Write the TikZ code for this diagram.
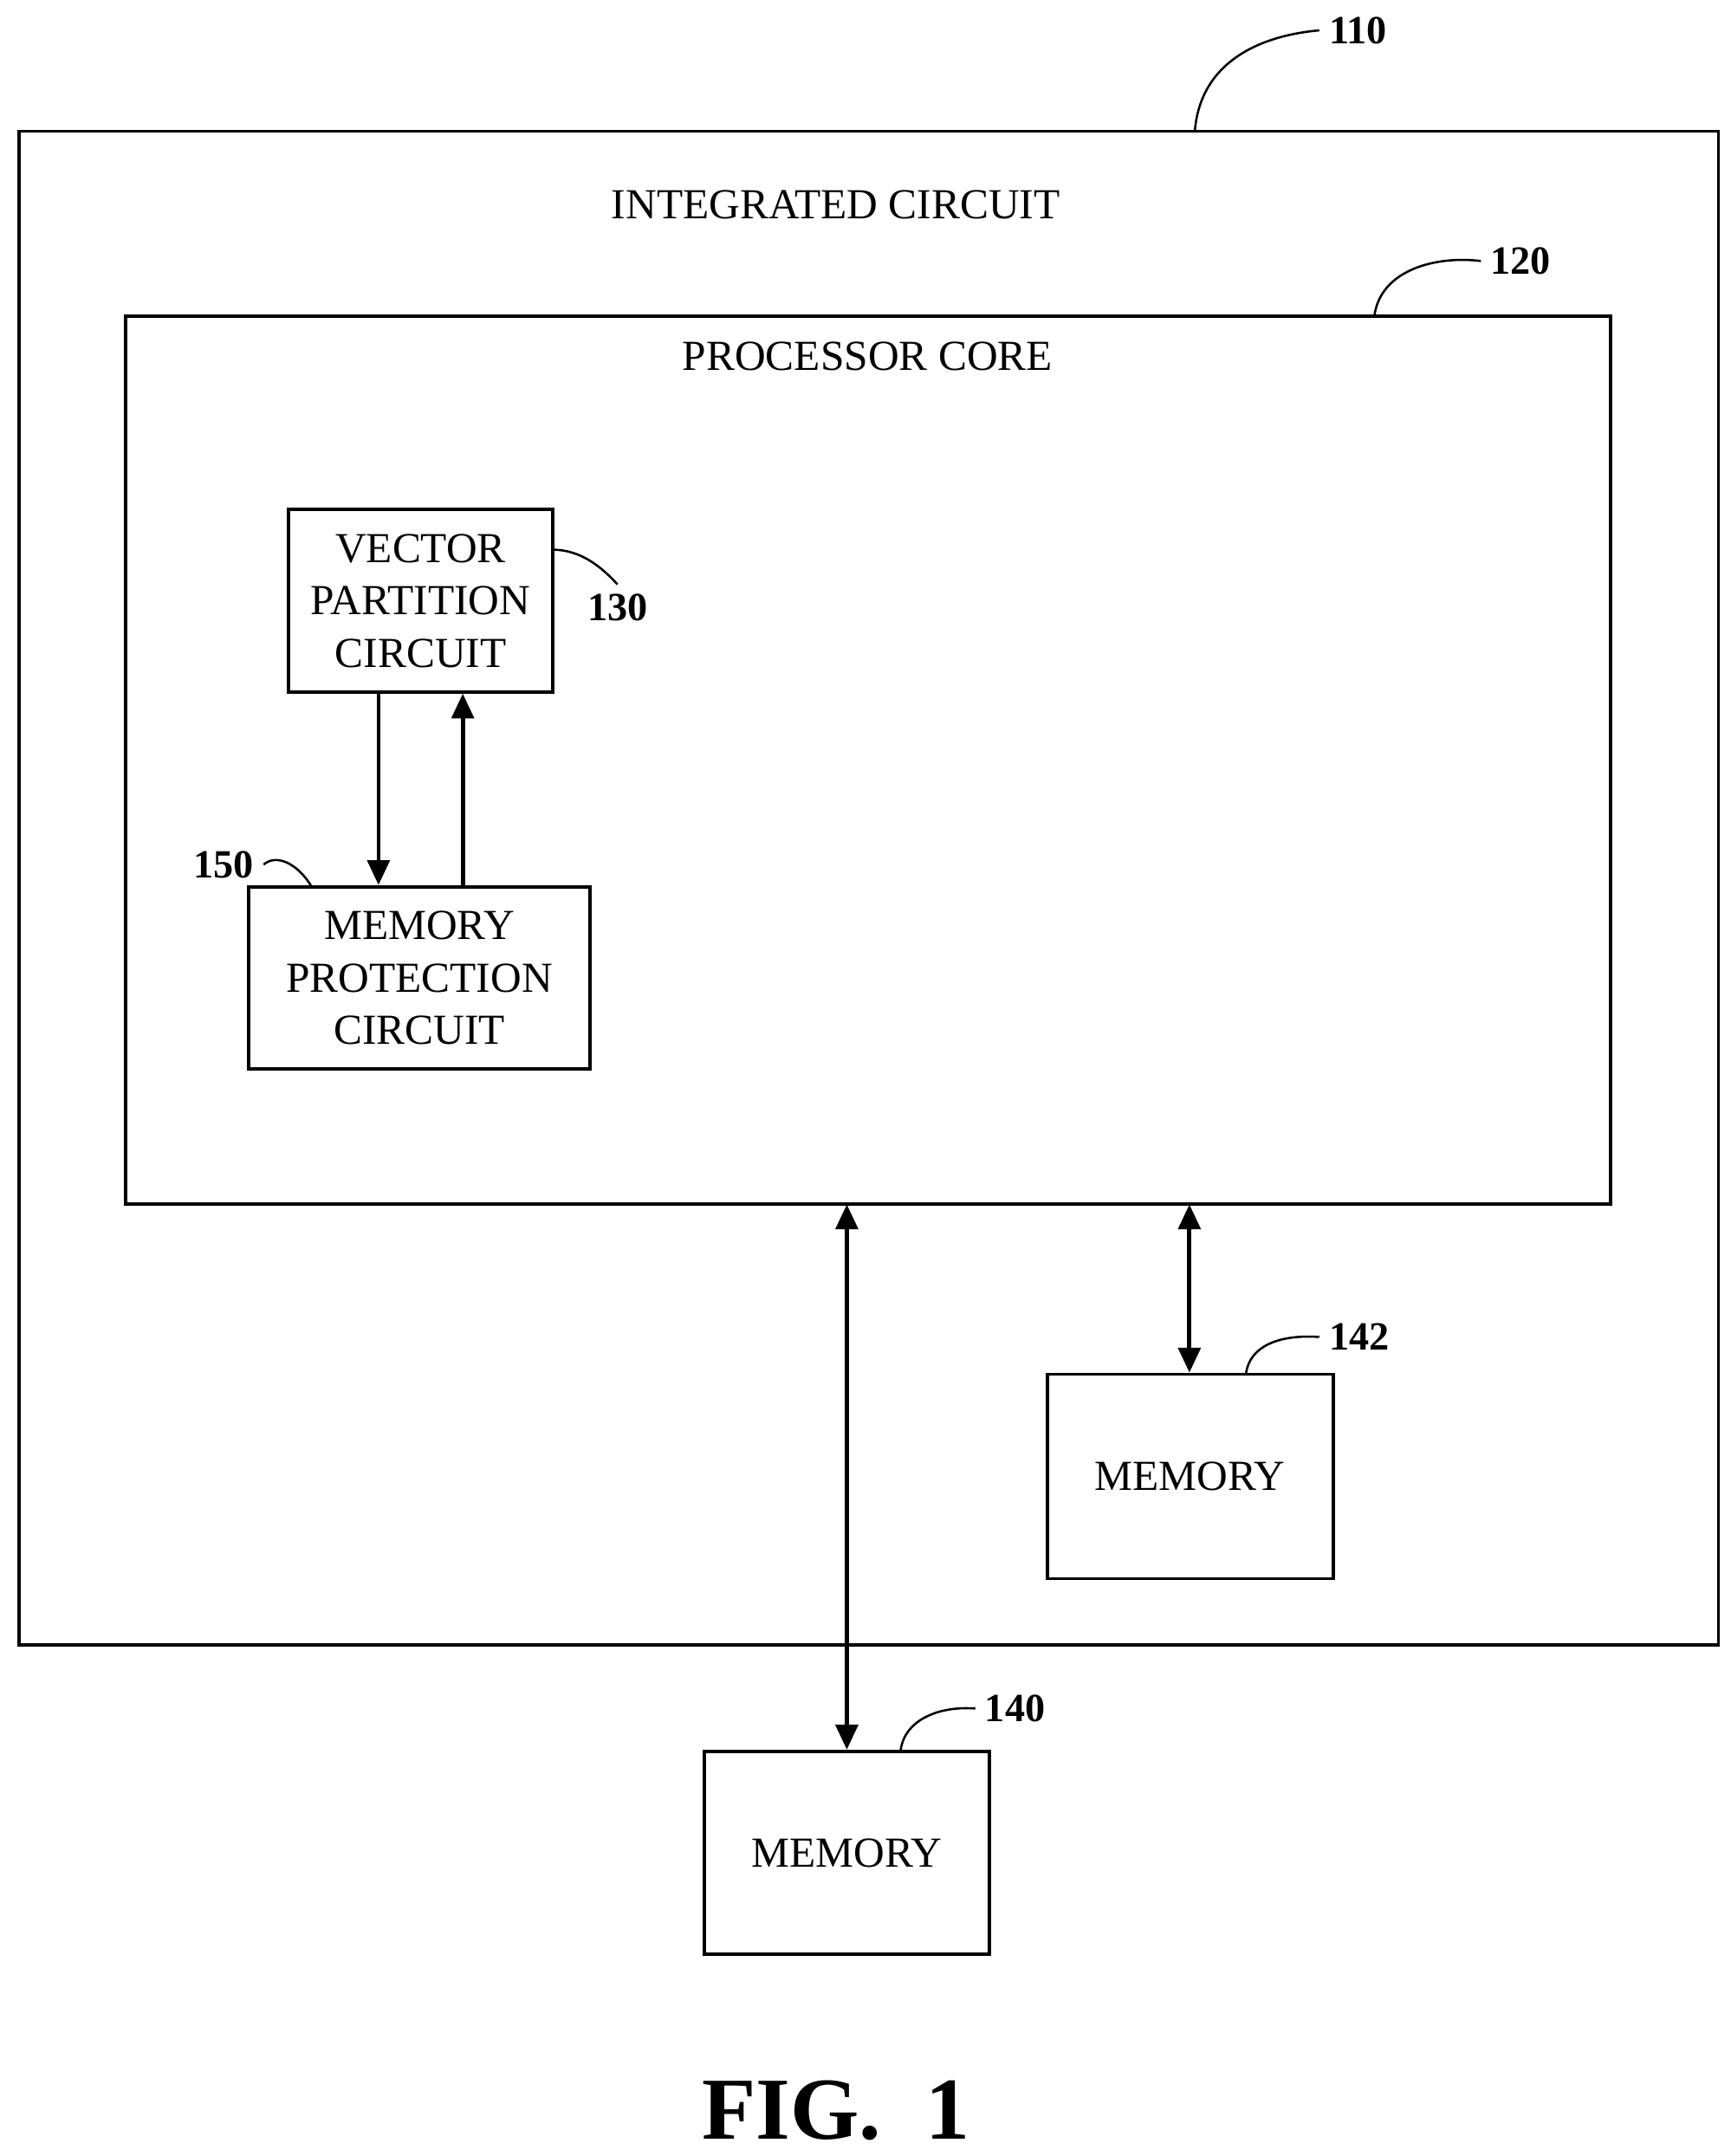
\documentclass[tikz,border=0pt]{standalone}
\usepackage{fontspec}
\setmainfont{Liberation Serif}
\usetikzlibrary{arrows.meta}
\begin{document}
\begin{tikzpicture}[x=0.5pt,y=-0.5pt,
  box/.style={draw,line width=1.2pt},
  txt/.style={font=\fontsize{15.5}{19}\selectfont,align=center},
  lbl/.style={font=\bfseries\fontsize{14.5}{17}\selectfont},
  lead/.style={line width=0.8pt},
  arr/.style={line width=1.5pt,-{Triangle[length=9pt,width=8pt]}},
  darr/.style={line width=1.5pt,{Triangle[length=9pt,width=8pt]}-{Triangle[length=9pt,width=8pt]}}]
\useasboundingbox (0,0) rectangle (1253,1561);
\draw[box] (14,95) rectangle (1244,1191);
\node[txt] (ict) at (605,148) {INTEGRATED CIRCUIT};
\draw[box] (91,229) rectangle (1166,872);
\node[txt] (pct) at (628,258) {PROCESSOR CORE};
\node[box,minimum width=95.5pt,minimum height=66pt,inner sep=0] (vp) at (304.5,435) {};
\node[txt] at (vp) {VECTOR\\PARTITION\\CIRCUIT};
\node[box,minimum width=123.5pt,minimum height=66pt,inner sep=0] (mp) at (303.5,708) {};
\node[txt] at (mp) {MEMORY\\PROTECTION\\CIRCUIT};
\node[box,minimum width=103.5pt,minimum height=74pt,inner sep=0] (m2) at (861.5,1069) {};
\node[txt] at (m2) {MEMORY};
\node[box,minimum width=103pt,minimum height=73.5pt,inner sep=0] (m1) at (613,1341.5) {};
\node[txt] at (m1) {MEMORY};
\coordinate (pcb) at (613,872);
\coordinate (pcb2) at (861,872);
\draw[arr] (vp.south -| 274,0) -- (mp.north -| 274,0);
\draw[arr] (mp.north -| 335,0) -- (vp.south -| 335,0);
\draw[darr] (pcb2) -- (m2.north -| pcb2);
\draw[darr] (pcb) -- (m1.north);
\node[lbl,anchor=west] (l110) at (955,22) {110};
\draw[lead] (865,94) .. controls (870,40) and (920,25) .. (l110.west);
\node[lbl,anchor=west] (l120) at (1072,189) {120};
\draw[lead] (995,228) .. controls (1000,195) and (1040,185) .. (l120.west);
\node[lbl] (l130) at (447,440) {130};
\draw[lead] (400,398) .. controls (420,398) and (435,410) .. (l130.north);
\node[lbl] (l150) at (162,626) {150};
\draw[lead] (225,641) .. controls (215,625) and (200,618) .. (l150.east);
\node[lbl,anchor=west] (l142) at (955,968) {142};
\draw[lead] (902,994) .. controls (905,975) and (925,966) .. (l142.west);
\node[lbl,anchor=west] (l140) at (706,1237) {140};
\draw[lead] (652,1267) .. controls (655,1245) and (680,1235) .. (l140.west);
\node[font=\bfseries\fontsize{32}{38}\selectfont] (fig) at (605,1528) {FIG.\ \ 1};
\end{tikzpicture}
\end{document}
